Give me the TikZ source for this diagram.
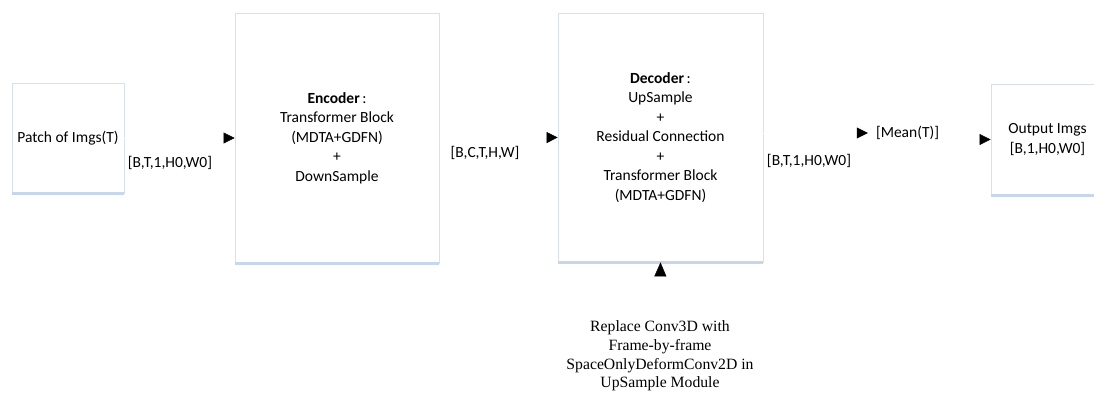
\documentclass[tikz,border=0pt]{standalone}
\usepackage{fontspec}
\setmainfont{Carlito}
\newfontfamily\notefont{Liberation Serif}
\usetikzlibrary{arrows.meta}
\definecolor{boxLine}{RGB}{216,224,232}
\definecolor{boxShade}{RGB}{198,215,236}
\begin{document}
\begin{tikzpicture}[x=1pt,y=-1pt,
    flowBox/.style={rectangle,draw=boxLine,line width=0.8pt,fill=white,inner sep=0pt,align=center,font=\fontsize{15.5}{19.5}\selectfont},
    flowLabel/.style={font=\fontsize{15.5}{19}\selectfont,inner sep=2pt},
    flowArrow/.style={-{Triangle[length=11pt,width=11pt,color=black]},draw=white},
    boxShadow/.style={boxShade,line width=2.5pt},
]
\useasboundingbox (0,0) rectangle (1094,392);
\fill[white] (0,0) rectangle (1094,392);
% boxes
\node[flowBox,minimum width=112pt,minimum height=110pt] (patch) at (68,138) {Patch of Imgs(T)};
\node[flowBox,minimum width=204pt,minimum height=250pt] (enc) at (337,138) {\textbf{Encoder}\,:\\Transformer Block\\(MDTA+GDFN)\\+\\DownSample};
\node[flowBox,minimum width=205pt,minimum height=249pt] (dec) at (660.5,137.5) {\textbf{Decoder}\,:\\UpSample\\+\\Residual Connection\\+\\Transformer Block\\(MDTA+GDFN)};
\node[flowBox,minimum width=113pt,minimum height=111pt] (out) at (1047.5,139.5) {Output Imgs\\{[B,1,H0,W0]}};
\draw[boxShadow] (patch.south west) -- (patch.south east);
\draw[boxShadow] (enc.south west) -- (enc.south east);
\draw[boxShadow] (dec.south west) -- (dec.south east);
\draw[boxShadow] (out.south west) -- (out.south east);
% shape labels
\node[flowLabel] (shapeA) at (170,163) {[B,T,1,H0,W0]};
\node[flowLabel] (shapeB) at (485,153) {[B,C,T,H,W]};
\node[flowLabel] (shapeC) at (809,161) {[B,T,1,H0,W0]};
\node[flowLabel] (mean) at (907.5,133) {[Mean(T)]};
\node[align=center,font=\notefont\fontsize{15.7}{18.7}\selectfont] (note) at (660,356) {Replace Conv3D with\\Frame-by-frame\\SpaceOnlyDeformConv2D in\\UpSample Module};
% arrows
\draw[flowArrow] (patch.east |- enc.west) -- (enc.west);
\draw[flowArrow] (enc.east) -- (dec.west);
\draw[flowArrow,shorten >=6pt] (dec.east |- mean.west) -- (mean.west);
\draw[flowArrow] (mean.east |- out.west) -- (out.west);
\draw[-{Triangle[length=14pt,width=12pt,color=black]},draw=white] (note.north) -- (dec.south);
\end{tikzpicture}
\end{document}
